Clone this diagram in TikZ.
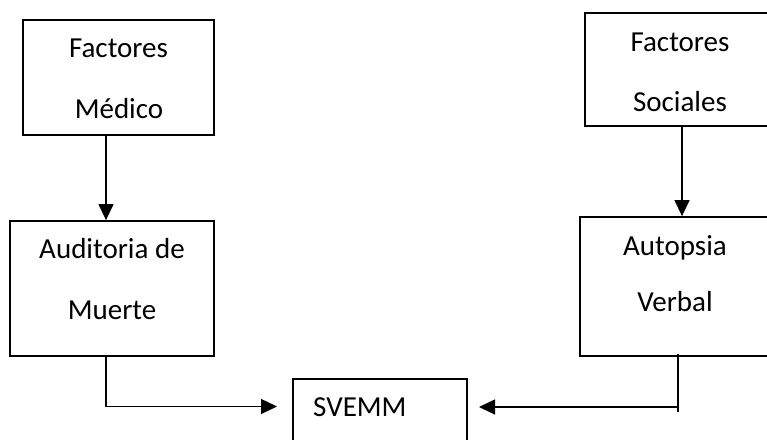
\documentclass[tikz,border=0pt]{standalone}
\usepackage{fontspec}
\setmainfont{Carlito}
\usetikzlibrary{arrows.meta}
\tikzset{
  box/.style={draw, line width=1.8pt, inner sep=0pt, fill=none},
  txt/.style={inner sep=0pt, anchor=base, font=\fontsize{29}{34}\selectfont},
  arr/.style={line width=1.3pt, -{Triangle[length=16pt,width=15pt]}},
  plain/.style={line width=1.3pt}
}
\begin{document}
\begin{tikzpicture}[x=1pt,y=-1pt]
\useasboundingbox (0,0) rectangle (767,439);
\clip (0,0) rectangle (767,439);
\fill[white] (0,0) rectangle (767,439);
% boxes
\node[box, minimum width=191pt, minimum height=115pt] (f1) at (118.5,77.5) {};
\node[box, minimum width=190pt, minimum height=113pt] (f2) at (680,69.5) {};
\node[box, minimum width=204pt, minimum height=135pt] (a3) at (112,288.5) {};
\node[box, minimum width=190pt, minimum height=139pt] (a4) at (675,286.5) {};
\node[box, minimum width=174pt, minimum height=76pt] (sv) at (380,417) {};
% texts
\node[txt] (t1a) at (118.5,57.3) {Factores};
\node[txt] (t1b) at (119,118) {Médico};
\node[txt] (t2a) at (680,51.7) {Factores};
\node[txt] (t2b) at (680,111.7) {Sociales};
\node[txt] (t3a) at (112,258) {Auditoria de};
\node[txt] (t3b) at (112,319) {Muerte};
\node[txt] (t4a) at (675,255) {Autopsia};
\node[txt] (t4b) at (675,311.7) {Verbal};
\node[txt, anchor=base west] (t5) at (313,416) {SVEMM};
% connector points
\coordinate (svL) at (277,406.5);
\coordinate (svR) at (479,407);
\coordinate (v4top) at ([xshift=3pt,yshift=3pt]a4.south);
\coordinate (v4bot) at (678,412);
\coordinate (v4mid) at (678,407);
% connectors
\draw[arr] ([xshift=-12.5pt]f1.south) -- ([xshift=-6pt]a3.north);
\draw[arr] ([xshift=2pt]f2.south) -- ([xshift=7pt]a4.north);
\draw[arr] ([xshift=-6pt]a3.south) |- (svL);
\draw[plain] (v4top) -- (v4bot);
\draw[arr] (v4mid) -- (svR);
\end{tikzpicture}
\end{document}
